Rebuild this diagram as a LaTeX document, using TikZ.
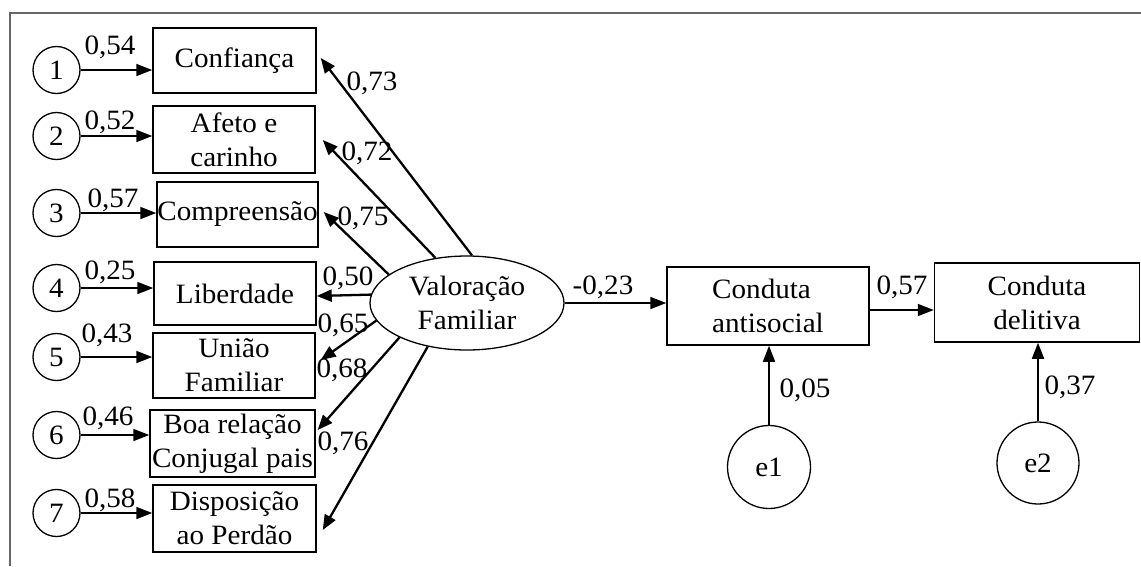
\documentclass[tikz,border=0pt]{standalone}
\usepackage{fontspec}
\setmainfont[FakeStretch=1.04]{Liberation Serif}
\usetikzlibrary{arrows.meta,shapes.geometric,calc}
\begin{document}
\begin{tikzpicture}[x=1pt,y=-1pt,
  font=\fontsize{28}{34}\selectfont,
  box/.style={draw, line width=1.5pt, inner sep=0pt, align=center},
  circ/.style={draw, circle, line width=1.3pt, inner sep=0pt},
  lab/.style={inner sep=0pt},
  arr/.style={line width=1.7pt, -{Triangle[length=16pt,width=12pt]}},
  arrb/.style={line width=2.3pt, -{Triangle[length=15pt,width=12pt]}}]
\useasboundingbox (0,0) rectangle (1141,566);
\draw[black!60, line width=2pt] (10,566) -- (10,13) -- (1141,13);

% indicator boxes
\node[box, minimum width=163, minimum height=65] (b1) at (234.5,60.5) {Confiança};
\node[box, minimum width=162, minimum height=67] (b2) at (234,139.5) {Afeto e\\carinho};
\node[box, minimum width=161, minimum height=65] (b3) at (237.5,214.5) {Compreensão};
\node[box, minimum width=162, minimum height=63] (b4) at (235,293.5) {Liberdade};
\node[box, minimum width=162, minimum height=65] (b5) at (234,365.5) {União\\Familiar};
\node[box, minimum width=165, minimum height=67] (b6) at (232.5,443.5) {Boa relação\\Conjugal pais};
\node[box, minimum width=163, minimum height=67] (b7) at (234.5,518.5) {Disposição\\ao Perdão};

% error circles
\node[circ, minimum size=47] (c1) at (56.5,70) {1};
\node[circ, minimum size=47] (c2) at (56.5,136) {2};
\node[circ, minimum size=47] (c3) at (56.5,213) {3};
\node[circ, minimum size=47] (c4) at (56.5,288) {4};
\node[circ, minimum size=47] (c5) at (56.5,357) {5};
\node[circ, minimum size=47] (c6) at (56.5,435) {6};
\node[circ, minimum size=47] (c7) at (56.5,513) {7};

\foreach \i in {1,...,7} {\draw[arr] (c\i) -- (c\i -| b\i.west);}

\node[lab] (l1) at (110,47) {0,54};
\node[lab] (l2) at (110,122) {0,52};
\node[lab] (l3) at (113,200) {0,57};
\node[lab] (l4) at (110,272) {0,25};
\node[lab] (l5) at (107,335) {0,43};
\node[lab] (l6) at (108,418) {0,46};
\node[lab] (l7) at (110,500) {0,58};

% latent variable
\node[draw, ellipse, line width=1.3pt, minimum width=194, minimum height=94, inner sep=0pt, align=center] (v) at (467,303) {Valoração\\Familiar};

\draw[arrb] (v.84) -- ($(b1.east)+(4,-2.5)$);
\draw[arrb] (v.125) -- ($(b2.east)+(7,0.5)$);
\draw[arrb] (v.160) -- ($(b3.east)+(5,-2.5)$);
\draw[arrb] (v.175) -- ($(b4.east)+(0,2.5)$);
\draw[arrb] (v.191) -- ($(b5.east)+(5,-5.5)$);
\draw[arrb] (v.207) -- ($(b6.east)+(2,-13.5)$);
\draw[arrb] (v.228) -- ($(b7.east)+(6,11.5)$);

\node[lab] (r1) at (372,83) {0,73};
\node[lab] (r2) at (367,153) {0,72};
\node[lab] (r3) at (363,218) {0,75};
\node[lab] (r4) at (348,278) {0,50};
\node[lab] (r5) at (343,325) {0,65};
\node[lab] (r6) at (342,370) {0,68};
\node[lab] (r7) at (343,443) {0,76};

% outcomes
\node[box, minimum width=202, minimum height=78, align=left] (ca) at (768,306) {Conduta\\antisocial};
\node[box, minimum width=205, minimum height=79] (cd) at (1037,302.5) {Conduta\\delitiva};
\node[circ, minimum size=83] (e1) at (769,467) {e1};
\node[circ, minimum size=82] (e2) at (1038,463) {e2};

\draw[arr] (v.east) -- (v.east -| ca.west);
\coordinate (p) at ($(ca.east)+(0,4)$);
\draw[arr] (p) -- (p -| cd.west);
\draw[arr] (e1) -- (e1 |- ca.south);
\draw[arr] (e2) -- (e2 |- cd.south);

\node[lab] (m1) at (603,287) {-0,23};
\node[lab] (m2) at (902,287) {0,57};
\node[lab] (m3) at (805,390) {0,05};
\node[lab] (m4) at (1070,387) {0,37};
\end{tikzpicture}
\end{document}
